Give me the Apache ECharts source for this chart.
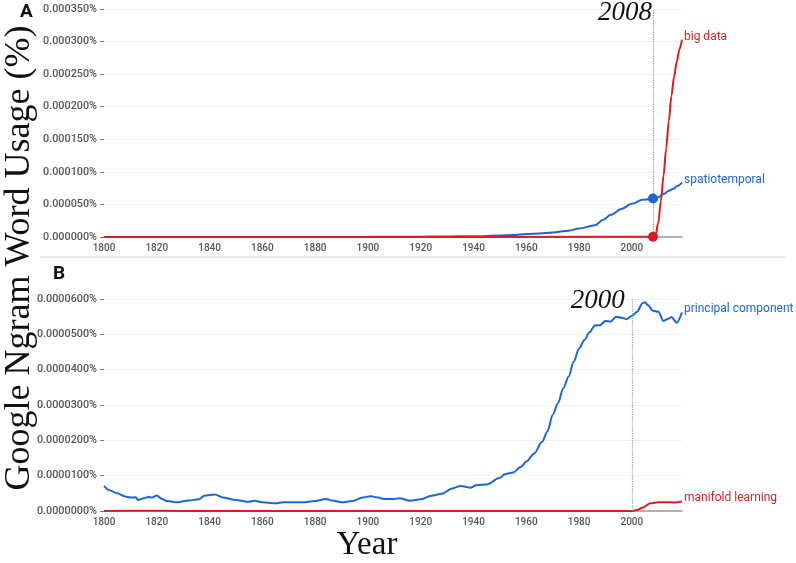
<!DOCTYPE html>
<html>
    <head>
        <meta charset="utf-8">
        <title>Google Ngram</title>
        <script src="https://cdn.jsdelivr.net/npm/echarts@6/dist/echarts.min.js"></script>
        <style>
            html, body { margin: 0; padding: 0; background: #fff; }
        </style>
    </head>
    <body>
        <div id="chart1" style="width:796px;height:563px;"></div>
    </body>
    <script type="text/javascript">
        // 数据（单位：%），[年份, 值]
        var bigData = [[1800, 0], [1900, 0], [1990, 0.0000002], [2000, 0.0000003], [2008, 0.0000005],
            [2009, 0.000003], [2010, 0.000022], [2011, 0.000055], [2012, 0.000094], [2013, 0.000136],
            [2014, 0.000178], [2015, 0.000217], [2016, 0.000246], [2017, 0.000269], [2018, 0.000288], [2019, 0.000303]];
        var spatiotemporal = [[1800, 0], [1850, 0], [1900, 0.0000002], [1920, 0.0000005], [1930, 0.0000008],
            [1940, 0.0000012], [1950, 0.0000022], [1955, 0.000003], [1960, 0.0000046], [1965, 0.0000055],
            [1970, 0.000007], [1976, 0.0000097], [1980, 0.000013], [1986, 0.000018], [1989, 0.000026],
            [1992, 0.000034], [1996, 0.000043], [2000, 0.000051], [2004, 0.000057], [2008, 0.0000591],
            [2010, 0.000061], [2012, 0.000066], [2014, 0.000071], [2016, 0.0000745], [2017, 0.000078], [2019, 0.0000835]];
        var principalComponent = [[1800, 0.0000071], [1802, 0.0000059], [1805, 0.000005], [1808, 0.0000041],
            [1810, 0.0000038], [1812, 0.0000039], [1813, 0.0000031], [1815, 0.0000036], [1817, 0.000004],
            [1818, 0.0000038], [1820, 0.0000044], [1822, 0.0000034], [1824, 0.0000028], [1828, 0.0000025],
            [1832, 0.000003], [1836, 0.0000033], [1838, 0.0000043], [1842, 0.0000047], [1845, 0.0000038],
            [1850, 0.0000031], [1855, 0.0000026], [1857, 0.0000029], [1860, 0.0000025], [1865, 0.0000022],
            [1868, 0.0000025], [1875, 0.0000025], [1880, 0.0000028], [1884, 0.0000034], [1887, 0.0000029],
            [1890, 0.0000025], [1894, 0.0000028], [1898, 0.0000038], [1901, 0.0000042], [1904, 0.0000038],
            [1906, 0.0000034], [1910, 0.0000034], [1912, 0.0000036], [1916, 0.0000029], [1920, 0.0000033],
            [1924, 0.0000043], [1928, 0.0000049], [1932, 0.0000064], [1935, 0.0000071], [1939, 0.0000066],
            [1941, 0.0000073], [1945, 0.0000075], [1950, 0.0000094], [1952, 0.0000105], [1955, 0.0000109],
            [1958, 0.0000125], [1960, 0.000014], [1963, 0.0000163], [1966, 0.0000196], [1968, 0.0000225],
            [1970, 0.0000272], [1972, 0.0000305], [1974, 0.0000347], [1976, 0.000038], [1978, 0.0000423],
            [1980, 0.000046], [1982, 0.0000484], [1984, 0.0000506], [1986, 0.0000525], [1988, 0.0000526],
            [1990, 0.0000538], [1992, 0.0000536], [1994, 0.000055], [1996, 0.0000547], [1998, 0.0000543],
            [2000, 0.0000552], [2002, 0.0000564], [2004, 0.0000588], [2005, 0.0000591], [2006, 0.0000583],
            [2008, 0.0000567], [2010, 0.0000564], [2012, 0.0000538], [2014, 0.0000545], [2015, 0.0000549],
            [2017, 0.0000533], [2019, 0.0000562]];
        var manifoldLearning = [[1800, 0], [1815, 0.0000001], [1830, 0], [1900, 0], [1999, 0], [2000, 0],
            [2002, 0.0000003], [2004, 0.0000009], [2007, 0.0000022], [2010, 0.0000025], [2014, 0.0000025],
            [2016, 0.0000024], [2019, 0.0000027]];

        var topTicks = { min: 0, max: 0.00035, interval: 0.00005 };
        var bottomTicks = { min: 0, max: 0.00006, interval: 0.00001 };
        var yearTicks = { min: 1800, max: 2019, interval: 20 };
        var markYearTop = 2008;
        var markYearBottom = 2000;

        var blue = '#1a66d6';
        var red = '#dc1c24';
        var serif = '"Liberation Serif", "DejaVu Serif", serif';

        function valueAt(arr, year) {
            for (var i = 0; i < arr.length; i++) {
                if (arr[i][0] === year) return arr[i][1];
            }
            return 0;
        }

        function xAxisOpt(gridIndex) {
            return {
                type: 'value', gridIndex: gridIndex,
                min: yearTicks.min, max: yearTicks.max, interval: yearTicks.interval,
                axisLine: { show: true, onZero: false, lineStyle: { color: '#9a9a9a', width: 1.5 } },
                axisTick: { show: false },
                splitLine: { show: false },
                axisLabel: {
                    showMaxLabel: false, color: '#555', fontSize: 10, fontWeight: 500, fontFamily: 'Roboto', margin: 6,
                    formatter: function (v) { return String(v); }
                }
            };
        }

        function yAxisOpt(gridIndex, ticks, digits) {
            return {
                type: 'value', gridIndex: gridIndex,
                min: ticks.min, max: ticks.max, interval: ticks.interval,
                axisLine: { show: false },
                axisTick: { show: true, length: 4, lineStyle: { color: '#777' } },
                splitLine: { lineStyle: { color: '#f1f1f1' } },
                axisLabel: {
                    color: '#555', fontSize: 10.8, fontWeight: 500, fontFamily: 'Roboto', margin: 7,
                    formatter: function (v) { return v.toFixed(digits) + '%'; }
                }
            };
        }

        function lineSeries(name, data, color, idx) {
            return {
                name: name, type: 'line', data: data,
                xAxisIndex: idx, yAxisIndex: idx,
                smooth: 0.3, smoothMonotone: 'x',
                symbol: 'none',
                lineStyle: { color: color, width: 2 },
                itemStyle: { color: color },
                endLabel: {
                    show: true, formatter: '{a}', color: color,
                    fontSize: 12, fontFamily: 'Roboto', distance: 2, offset: [0, -3]
                },
                z: 3
            };
        }

        function yearLabel(text, year, top, dist, dy) {
            return {
                coord: [year, top], symbolSize: 0,
                label: {
                    show: true, formatter: text, position: 'left', distance: dist, offset: [0, dy],
                    fontFamily: serif, fontStyle: 'italic', fontSize: 27, color: '#111'
                }
            };
        }

        var dotted = {
            symbol: 'none', silent: true,
            label: { show: false },
            lineStyle: { type: 'dotted', color: '#999', width: 1.2 }
        };

        var sBig = lineSeries('big data', bigData, red, 0);
        sBig.z = 4;
        sBig.markPoint = {
            symbol: 'circle', symbolSize: 10, itemStyle: { color: red },
            label: { show: false },
            data: [{ coord: [markYearTop, valueAt(bigData, markYearTop)] }, yearLabel(String(markYearTop), markYearTop, topTicks.max, 1, 4)]
        };
        sBig.markLine = Object.assign({ data: [{ xAxis: markYearTop }] }, dotted);

        var sSpatio = lineSeries('spatiotemporal', spatiotemporal, blue, 0);
        sSpatio.markPoint = {
            symbol: 'circle', symbolSize: 10, itemStyle: { color: blue },
            label: { show: false },
            data: [{ coord: [markYearTop, valueAt(spatiotemporal, markYearTop)] }]
        };

        var sPc = lineSeries('principal component', principalComponent, blue, 1);
        sPc.markPoint = {
            symbol: 'circle', label: { show: false },
            data: [yearLabel(String(markYearBottom), markYearBottom, bottomTicks.max, 7, 2)]
        };
        sPc.markLine = Object.assign({ data: [{ xAxis: markYearBottom }] }, dotted);

        var sMl = lineSeries('manifold learning', manifoldLearning, red, 1);
        sMl.z = 4;

        var myChart1 = echarts.init(document.getElementById('chart1'));
        myChart1.setOption({
            animation: false,
            backgroundColor: '#fff',
            grid: [
                { left: 104, right: 114, top: 9, height: 228 },
                { left: 104, right: 114, top: 299, height: 212 }
            ],
            xAxis: [xAxisOpt(0), xAxisOpt(1)],
            yAxis: [yAxisOpt(0, topTicks, 6), yAxisOpt(1, bottomTicks, 7)],
            graphic: [
                { type: 'line', shape: { x1: 40, y1: 257, x2: 785, y2: 257 }, style: { stroke: '#e2e2e2', lineWidth: 1.5 } },
                { type: 'text', left: 20, top: 3, style: { text: 'A', font: 'bold 19px Roboto', fill: '#111' } },
                { type: 'text', left: 53, top: 265, style: { text: 'B', font: 'bold 19px Roboto', fill: '#111' } },
                {
                    type: 'text', x: 20, y: 258, rotation: Math.PI / 2,
                    style: { text: 'Google Ngram Word Usage (%)', font: '36px ' + serif, fill: '#111', align: 'center', verticalAlign: 'middle' }
                },
                {
                    type: 'text', x: 367, y: 545,
                    style: { text: 'Year', font: '33px ' + serif, fill: '#111', align: 'center', verticalAlign: 'middle' }
                }
            ],
            series: [sSpatio, sBig, sPc, sMl]
        });
    </script>
</html>
